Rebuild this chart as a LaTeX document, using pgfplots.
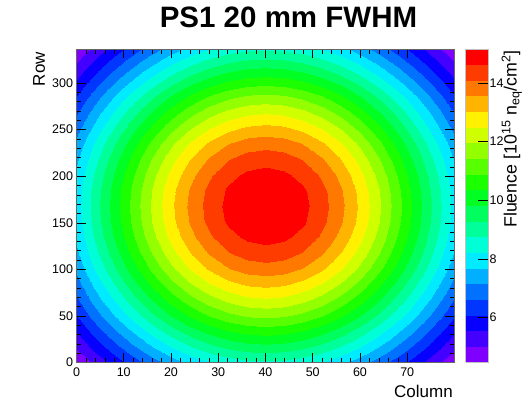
\documentclass[border=0pt]{standalone}
\usepackage{fontspec}
\setmainfont{Liberation Sans}
\usepackage{pgfplots}
\pgfplotsset{compat=1.18}
\begin{document}
\begin{tikzpicture}[x=1pt,y=1pt]
\path[use as bounding box] (0,0) rectangle (525,403);
\begin{axis}[
  at={(76.5pt,40.5pt)}, anchor=south west,
  scale only axis, width=378pt, height=313pt,
  view={0}{90},
  xmin=0, xmax=80, ymin=0, ymax=336,
  enlargelimits=false,
  hide axis,
  colormap={rootpal}{rgb255=(128,0,255) rgb255=(68,0,255) rgb255=(7,0,255) rgb255=(0,54,255) rgb255=(0,114,255) rgb255=(0,175,255) rgb255=(0,235,255) rgb255=(0,255,215) rgb255=(0,255,154) rgb255=(0,255,94) rgb255=(0,255,34) rgb255=(27,255,0) rgb255=(87,255,0) rgb255=(147,255,0) rgb255=(208,255,0) rgb255=(255,241,0) rgb255=(255,181,0) rgb255=(255,121,0) rgb255=(255,60,0) rgb255=(255,0,0)},
  colormap access=piecewise constant,
  point meta min=4.47, point meta max=15.14,
  colorbar,
  colorbar style={
    at={(parent axis.right of north east)}, anchor=north west, xshift=2.5pt,
    width=23pt,
    axis line style={black!25},
    ytick={6,8,10,12,14},
    yticklabel pos=right,
    ytick pos=right,
    tick align=inside,
    major tick length=11pt,
    every tick/.style={black, line width=0.5pt},
    /pgf/number format/assume math mode=true,
    yticklabel style={font=\fontsize{12.5}{14}\selectfont, xshift=-2.5pt},
  },
]
\addplot3[surf, shader=interp, mesh/cols=21] coordinates {
(0,0,4.57) (4,0,5.16) (8,0,5.76) (12,0,6.34) (16,0,6.89) (20,0,7.39) (24,0,7.83) (28,0,8.18) (32,0,8.45) (36,0,8.61) (40,0,8.67) (44,0,8.61) (48,0,8.45) (52,0,8.18) (56,0,7.83) (60,0,7.39) (64,0,6.89) (68,0,6.34) (72,0,5.76) (76,0,5.16) (80,0,4.57)
(0,16.8,5.08) (4,16.8,5.74) (8,16.8,6.40) (12,16.8,7.04) (16,16.8,7.65) (20,16.8,8.21) (24,16.8,8.70) (28,16.8,9.10) (32,16.8,9.39) (36,16.8,9.58) (40,16.8,9.64) (44,16.8,9.58) (48,16.8,9.39) (52,16.8,9.10) (56,16.8,8.70) (60,16.8,8.21) (64,16.8,7.65) (68,16.8,7.04) (72,16.8,6.40) (76,16.8,5.74) (80,16.8,5.08)
(0,33.6,5.59) (4,33.6,6.31) (8,33.6,7.04) (12,33.6,7.74) (16,33.6,8.42) (20,33.6,9.03) (24,33.6,9.57) (28,33.6,10.00) (32,33.6,10.33) (36,33.6,10.53) (40,33.6,10.60) (44,33.6,10.53) (48,33.6,10.33) (52,33.6,10.00) (56,33.6,9.57) (60,33.6,9.03) (64,33.6,8.42) (68,33.6,7.74) (72,33.6,7.04) (76,33.6,6.31) (80,33.6,5.59)
(0,50.4,6.08) (4,50.4,6.86) (8,50.4,7.65) (12,50.4,8.42) (16,50.4,9.15) (20,50.4,9.82) (24,50.4,10.40) (28,50.4,10.88) (32,50.4,11.23) (36,50.4,11.45) (40,50.4,11.52) (44,50.4,11.45) (48,50.4,11.23) (52,50.4,10.88) (56,50.4,10.40) (60,50.4,9.82) (64,50.4,9.15) (68,50.4,8.42) (72,50.4,7.65) (76,50.4,6.86) (80,50.4,6.08)
(0,67.2,6.53) (4,67.2,7.38) (8,67.2,8.22) (12,67.2,9.05) (16,67.2,9.84) (20,67.2,10.56) (24,67.2,11.18) (28,67.2,11.69) (32,67.2,12.07) (36,67.2,12.31) (40,67.2,12.39) (44,67.2,12.31) (48,67.2,12.07) (52,67.2,11.69) (56,67.2,11.18) (60,67.2,10.56) (64,67.2,9.84) (68,67.2,9.05) (72,67.2,8.22) (76,67.2,7.38) (80,67.2,6.53)
(0,84,6.94) (4,84,7.84) (8,84,8.74) (12,84,9.63) (16,84,10.46) (20,84,11.22) (24,84,11.89) (28,84,12.43) (32,84,12.84) (36,84,13.09) (40,84,13.17) (44,84,13.09) (48,84,12.84) (52,84,12.43) (56,84,11.89) (60,84,11.22) (64,84,10.46) (68,84,9.63) (72,84,8.74) (76,84,7.84) (80,84,6.94)
(0,100.8,7.30) (4,100.8,8.25) (8,100.8,9.19) (12,100.8,10.12) (16,100.8,11.00) (20,100.8,11.80) (24,100.8,12.50) (28,100.8,13.07) (32,100.8,13.50) (36,100.8,13.76) (40,100.8,13.85) (44,100.8,13.76) (48,100.8,13.50) (52,100.8,13.07) (56,100.8,12.50) (60,100.8,11.80) (64,100.8,11.00) (68,100.8,10.12) (72,100.8,9.19) (76,100.8,8.25) (80,100.8,7.30)
(0,117.6,7.59) (4,117.6,8.57) (8,117.6,9.56) (12,117.6,10.52) (16,117.6,11.44) (20,117.6,12.27) (24,117.6,13.00) (28,117.6,13.59) (32,117.6,14.04) (36,117.6,14.31) (40,117.6,14.40) (44,117.6,14.31) (48,117.6,14.04) (52,117.6,13.59) (56,117.6,13.00) (60,117.6,12.27) (64,117.6,11.44) (68,117.6,10.52) (72,117.6,9.56) (76,117.6,8.57) (80,117.6,7.59)
(0,134.4,7.81) (4,134.4,8.82) (8,134.4,9.83) (12,134.4,10.82) (16,134.4,11.76) (20,134.4,12.62) (24,134.4,13.37) (28,134.4,13.98) (32,134.4,14.43) (36,134.4,14.71) (40,134.4,14.81) (44,134.4,14.71) (48,134.4,14.43) (52,134.4,13.98) (56,134.4,13.37) (60,134.4,12.62) (64,134.4,11.76) (68,134.4,10.82) (72,134.4,9.83) (76,134.4,8.82) (80,134.4,7.81)
(0,151.2,7.94) (4,151.2,8.97) (8,151.2,10.00) (12,151.2,11.00) (16,151.2,11.96) (20,151.2,12.83) (24,151.2,13.59) (28,151.2,14.21) (32,151.2,14.68) (36,151.2,14.96) (40,151.2,15.06) (44,151.2,14.96) (48,151.2,14.68) (52,151.2,14.21) (56,151.2,13.59) (60,151.2,12.83) (64,151.2,11.96) (68,151.2,11.00) (72,151.2,10.00) (76,151.2,8.97) (80,151.2,7.94)
(0,168,7.98) (4,168,9.02) (8,168,10.05) (12,168,11.06) (16,168,12.02) (20,168,12.90) (24,168,13.67) (28,168,14.29) (32,168,14.76) (36,168,15.04) (40,168,15.14) (44,168,15.04) (48,168,14.76) (52,168,14.29) (56,168,13.67) (60,168,12.90) (64,168,12.02) (68,168,11.06) (72,168,10.05) (76,168,9.02) (80,168,7.98)
(0,184.8,7.94) (4,184.8,8.97) (8,184.8,10.00) (12,184.8,11.00) (16,184.8,11.96) (20,184.8,12.83) (24,184.8,13.59) (28,184.8,14.21) (32,184.8,14.68) (36,184.8,14.96) (40,184.8,15.06) (44,184.8,14.96) (48,184.8,14.68) (52,184.8,14.21) (56,184.8,13.59) (60,184.8,12.83) (64,184.8,11.96) (68,184.8,11.00) (72,184.8,10.00) (76,184.8,8.97) (80,184.8,7.94)
(0,201.6,7.81) (4,201.6,8.82) (8,201.6,9.83) (12,201.6,10.82) (16,201.6,11.76) (20,201.6,12.62) (24,201.6,13.37) (28,201.6,13.98) (32,201.6,14.43) (36,201.6,14.71) (40,201.6,14.81) (44,201.6,14.71) (48,201.6,14.43) (52,201.6,13.98) (56,201.6,13.37) (60,201.6,12.62) (64,201.6,11.76) (68,201.6,10.82) (72,201.6,9.83) (76,201.6,8.82) (80,201.6,7.81)
(0,218.4,7.59) (4,218.4,8.57) (8,218.4,9.56) (12,218.4,10.52) (16,218.4,11.44) (20,218.4,12.27) (24,218.4,13.00) (28,218.4,13.59) (32,218.4,14.04) (36,218.4,14.31) (40,218.4,14.40) (44,218.4,14.31) (48,218.4,14.04) (52,218.4,13.59) (56,218.4,13.00) (60,218.4,12.27) (64,218.4,11.44) (68,218.4,10.52) (72,218.4,9.56) (76,218.4,8.57) (80,218.4,7.59)
(0,235.2,7.30) (4,235.2,8.25) (8,235.2,9.19) (12,235.2,10.12) (16,235.2,11.00) (20,235.2,11.80) (24,235.2,12.50) (28,235.2,13.07) (32,235.2,13.50) (36,235.2,13.76) (40,235.2,13.85) (44,235.2,13.76) (48,235.2,13.50) (52,235.2,13.07) (56,235.2,12.50) (60,235.2,11.80) (64,235.2,11.00) (68,235.2,10.12) (72,235.2,9.19) (76,235.2,8.25) (80,235.2,7.30)
(0,252,6.94) (4,252,7.84) (8,252,8.74) (12,252,9.63) (16,252,10.46) (20,252,11.22) (24,252,11.89) (28,252,12.43) (32,252,12.84) (36,252,13.09) (40,252,13.17) (44,252,13.09) (48,252,12.84) (52,252,12.43) (56,252,11.89) (60,252,11.22) (64,252,10.46) (68,252,9.63) (72,252,8.74) (76,252,7.84) (80,252,6.94)
(0,268.8,6.53) (4,268.8,7.38) (8,268.8,8.22) (12,268.8,9.05) (16,268.8,9.84) (20,268.8,10.56) (24,268.8,11.18) (28,268.8,11.69) (32,268.8,12.07) (36,268.8,12.31) (40,268.8,12.39) (44,268.8,12.31) (48,268.8,12.07) (52,268.8,11.69) (56,268.8,11.18) (60,268.8,10.56) (64,268.8,9.84) (68,268.8,9.05) (72,268.8,8.22) (76,268.8,7.38) (80,268.8,6.53)
(0,285.6,6.08) (4,285.6,6.86) (8,285.6,7.65) (12,285.6,8.42) (16,285.6,9.15) (20,285.6,9.82) (24,285.6,10.40) (28,285.6,10.88) (32,285.6,11.23) (36,285.6,11.45) (40,285.6,11.52) (44,285.6,11.45) (48,285.6,11.23) (52,285.6,10.88) (56,285.6,10.40) (60,285.6,9.82) (64,285.6,9.15) (68,285.6,8.42) (72,285.6,7.65) (76,285.6,6.86) (80,285.6,6.08)
(0,302.4,5.59) (4,302.4,6.31) (8,302.4,7.04) (12,302.4,7.74) (16,302.4,8.42) (20,302.4,9.03) (24,302.4,9.57) (28,302.4,10.00) (32,302.4,10.33) (36,302.4,10.53) (40,302.4,10.60) (44,302.4,10.53) (48,302.4,10.33) (52,302.4,10.00) (56,302.4,9.57) (60,302.4,9.03) (64,302.4,8.42) (68,302.4,7.74) (72,302.4,7.04) (76,302.4,6.31) (80,302.4,5.59)
(0,319.2,5.08) (4,319.2,5.74) (8,319.2,6.40) (12,319.2,7.04) (16,319.2,7.65) (20,319.2,8.21) (24,319.2,8.70) (28,319.2,9.10) (32,319.2,9.39) (36,319.2,9.58) (40,319.2,9.64) (44,319.2,9.58) (48,319.2,9.39) (52,319.2,9.10) (56,319.2,8.70) (60,319.2,8.21) (64,319.2,7.65) (68,319.2,7.04) (72,319.2,6.40) (76,319.2,5.74) (80,319.2,5.08)
(0,336,4.57) (4,336,5.16) (8,336,5.76) (12,336,6.34) (16,336,6.89) (20,336,7.39) (24,336,7.83) (28,336,8.18) (32,336,8.45) (36,336,8.61) (40,336,8.67) (44,336,8.61) (48,336,8.45) (52,336,8.18) (56,336,7.83) (60,336,7.39) (64,336,6.89) (68,336,6.34) (72,336,5.76) (76,336,5.16) (80,336,4.57)
};
\end{axis}
\begin{axis}[
  at={(76.5pt,40.5pt)}, anchor=south west,
  scale only axis, width=378pt, height=313pt,
  xmin=0, xmax=80, ymin=0, ymax=336,
  enlargelimits=false,
  axis line style={black!60, line width=0.6pt},
  tick align=inside,
  xtick={0,10,...,70}, minor x tick num=4,
  ytick={0,50,...,300}, minor y tick num=4,
  major tick length=9pt, minor tick length=4.5pt,
  every tick/.style={black, line width=0.5pt},
  /pgf/number format/assume math mode=true,
  tick label style={font=\fontsize{12.5}{14}\selectfont},
  xticklabel style={yshift=-1.5pt},
]
\end{axis}
\node[anchor=base, font=\bfseries\fontsize{29.5}{31}\selectfont] at (288.5,375.7) {PS1 20 mm FWHM};
\node[anchor=base east, inner sep=0pt, font=\fontsize{17}{20}\selectfont] at (453,5) {Column};
\node[rotate=90, anchor=base east, inner sep=0pt, font=\fontsize{17}{20}\selectfont] at (45,351) {Row};
\node[rotate=90, anchor=north east, inner sep=0pt, font=\fontsize{17.8}{20}\selectfont] at (501.5,353) {Fluence [10\textsuperscript{15} n\textsubscript{eq}/cm\textsuperscript{2}]};
\end{tikzpicture}
\end{document}
